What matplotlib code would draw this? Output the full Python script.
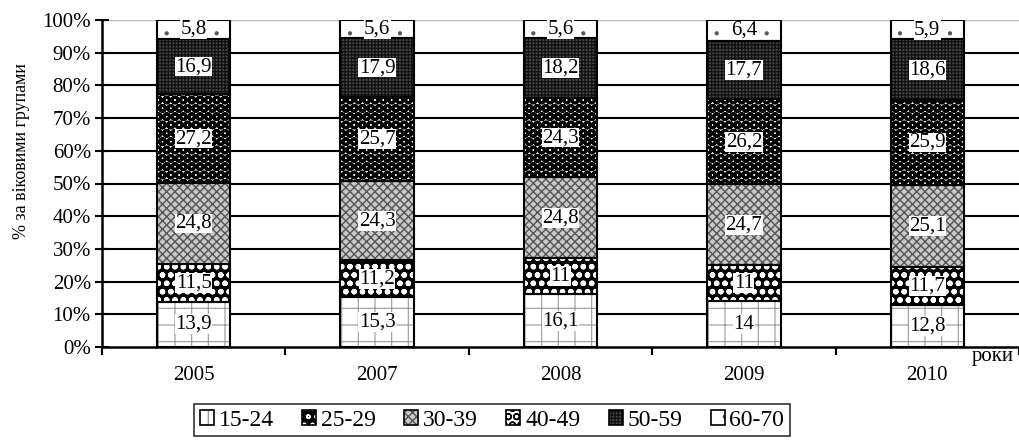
import numpy as np
import matplotlib.pyplot as plt
from matplotlib.patches import Patch
from matplotlib.legend_handler import HandlerTuple

plt.rcParams['font.family'] = ['Liberation Serif', 'DejaVu Serif']
plt.rcParams['hatch.linewidth'] = 1.0

# ---- дані
years = ["2005", "2007", "2008", "2009", "2010"]
groups = ["15-24", "25-29", "30-39", "40-49", "50-59", "60-70"]
v_15_24 = [13.9, 15.3, 16.1, 14, 12.8]
v_25_29 = [11.5, 11.2, 11, 11, 11.7]
v_30_39 = [24.8, 24.3, 24.8, 24.7, 25.1]
v_40_49 = [27.2, 25.7, 24.3, 26.2, 25.9]
v_50_59 = [16.9, 17.9, 18.2, 17.7, 18.6]
v_60_70 = [5.8, 5.6, 5.6, 6.4, 5.9]
values = [v_15_24, v_25_29, v_30_39, v_40_49, v_50_59, v_60_70]

# стилі: (фон, штрихування, колір штрихування, товщина штрихування)
styles = [
    ("white", "+", "#999999", 0.8),
    ("black", "oo", "white", 1.6),
    ("#c8c8c8", "xxxx", "#555555", 1.0),
    ("white", "OO", "black", 2.2),
    ("#4a4a4a", "+++++", "#111111", 1.0),
    ("white", ".", "#555555", 0.6),
]

data = np.array(values, dtype=float)
pct = data / data.sum(axis=0) * 100


def set_hlw(patch, lw):
    # товщина штрихування для окремого патча (якщо версія дозволяє)
    if hasattr(patch, "set_hatch_linewidth"):
        patch.set_hatch_linewidth(lw)


fig = plt.figure(figsize=(10.19, 4.43), dpi=100)
ax = fig.add_axes([102 / 1019, 1 - 347 / 443, 1 - 102 / 1019, (347 - 20) / 443])

x = np.arange(len(years))
w = 0.4
bottom = np.zeros(len(years))
for i, g in enumerate(groups):
    fc, hatch, hc, hlw = styles[i]
    ax.bar(x, pct[i], w, bottom=bottom, color=fc, edgecolor="none", zorder=2)
    hb = ax.bar(x, pct[i], w, bottom=bottom, fill=False, hatch=hatch, edgecolor=hc,
                linewidth=0, zorder=3)
    for p in hb.patches:
        set_hlw(p, hlw)
    ax.bar(x, pct[i], w, bottom=bottom, fill=False, edgecolor="black",
           linewidth=1.5, zorder=4)
    for j in range(len(years)):
        lbl = f"{values[i][j]:g}".replace(".", ",")
        ax.text(x[j], bottom[j] + pct[i][j] / 2, lbl, ha="center", va="center",
                fontsize=15, zorder=5,
                bbox=dict(facecolor="white", edgecolor="none", pad=0.3))
    bottom += pct[i]

ax.set_xlim(-0.5, 4.5)
ax.set_ylim(0, 100)
ax.set_yticks(np.arange(0, 101, 10))
ax.set_yticklabels([f"{t}%" for t in range(0, 101, 10)], fontsize=15)
for t in range(10, 100, 10):
    ax.axhline(t, color="black", linewidth=1.5, zorder=1)
ax.axhline(100, color="#bbbbbb", linewidth=1, zorder=1)

ax.set_xticks(x)
ax.set_xticklabels(years, fontsize=15)
ax.set_xticks(np.arange(-0.5, 4.6, 1), minor=True)
ax.tick_params(axis="x", which="major", length=0, pad=14)
ax.tick_params(axis="x", which="minor", length=6, width=1.5, direction="out")
ax.tick_params(axis="y", length=10, width=1.5, direction="inout", pad=3)

for s in ["top", "right"]:
    ax.spines[s].set_visible(False)
ax.spines["left"].set_linewidth(1.8)
ax.spines["bottom"].set_linewidth(1.8)

ax.set_ylabel("% за віковими групами", fontsize=13)
ax.yaxis.set_label_coords(-0.079, 0.6)
fig.text(993 / 1019, 1 - 357 / 443, "роки", fontsize=15, ha="center", va="center")

# легенда: фон + штрихування + чорна рамка в одному маркері
handles = []
for i in range(len(groups)):
    fc, hatch, hc, hlw = styles[i]
    h_face = Patch(facecolor=fc, edgecolor="none")
    h_hatch = Patch(fill=False, hatch=hatch, edgecolor=hc, linewidth=0)
    h_border = Patch(fill=False, edgecolor="black", linewidth=1.2)
    handles.append((h_face, h_hatch, h_border))
leg = fig.legend(handles, groups, loc="center", bbox_to_anchor=(492 / 1019, 1 - 420 / 443),
                 ncol=6, fontsize=17, frameon=True, fancybox=False, edgecolor="black",
                 handlelength=0.6, handleheight=0.6, handletextpad=0.2, columnspacing=1.2,
                 borderpad=0.25, handler_map={tuple: HandlerTuple(ndivide=1, pad=0)})
leg.get_frame().set_linewidth(1.2)

fig.savefig("out.png", dpi=100)
